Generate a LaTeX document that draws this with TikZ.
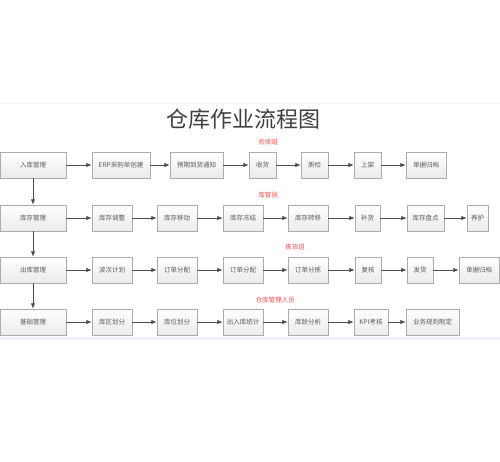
\documentclass[tikz,border=0pt]{standalone}
\usepackage{fontspec}
\setmainfont{Noto Sans CJK SC}
\usetikzlibrary{arrows.meta,shadows}

\begin{document}
\begin{tikzpicture}[x=1pt,y=-1pt,
  box/.style={draw=gray!65, line width=0.5pt, top color=white, bottom color=gray!16,
    drop shadow={shadow xshift=1pt,shadow yshift=-1pt,fill=gray!40,opacity=0.7},
    minimum height=26pt, inner sep=1pt, font=\fontsize{6.5}{7}\selectfont, text=black!65},
  flow/.style={draw=black!70, line width=0.8pt, -{Latex[length=5.5pt,width=4.5pt]}},
  group/.style={font=\fontsize{6.5}{7}\selectfont, text=red!70}]

% Page
\useasboundingbox[fill=white] (0,0) rectangle (500,461);
\draw[gray!8] (0,103) -- (500,103);
\fill[blue!5] (0,337) rectangle (500,340);

% Title
\node[font=\fontsize{22}{24}\selectfont, text=black!75] (title) at (243,119) {仓库作业流程图};

% Row 1
\node[box, minimum width=66pt] (in) at (33,165) {入库管理};
\node[box, minimum width=58pt] (erp) at (121,165) {ERP采购单创建};
\node[box, minimum width=53pt] (notice) at (196.5,165) {预期到货通知};
\node[box, minimum width=27pt] (recv) at (262.5,165) {收货};
\node[box, minimum width=27pt] (qc) at (314.5,165) {质检};
\node[box, minimum width=27pt] (shelf) at (367.5,165) {上架};
\node[box, minimum width=40pt] (archA) at (426,165) {单据归档};
\node[group] (grpA) at (268,142) {验收组};

% Row 2
\node[box, minimum width=66pt] (stock) at (33,218) {库存管理};
\node[box, minimum width=40pt] (adj) at (112,218) {库存调整};
\node[box, minimum width=40pt] (move) at (177,218) {库存移动};
\node[box, minimum width=40pt] (freeze) at (243,218) {库存冻结};
\node[box, minimum width=40pt] (transfer) at (308,218) {库存转移};
\node[box, minimum width=25pt] (replen) at (367.5,218) {补货};
\node[box, minimum width=37pt] (count) at (425.5,218) {库存盘点};
\node[box, minimum width=21pt] (care) at (477.5,218) {养护};
\node[group] (grpB) at (268,195) {库管员};

% Row 3
\node[box, minimum width=66pt] (out) at (33,270) {出库管理};
\node[box, minimum width=40pt] (wave) at (112,270) {波次计划};
\node[box, minimum width=40pt] (allocA) at (177,270) {订单分配};
\node[box, minimum width=40pt] (allocB) at (243,270) {订单分配};
\node[box, minimum width=40pt] (pick) at (308,270) {订单分拣};
\node[box, minimum width=26pt] (check) at (368,270) {复核};
\node[box, minimum width=26pt] (ship) at (420,270) {发货};
\node[box, minimum width=40pt] (archB) at (479,270) {单据归档};
\node[group] (grpC) at (295,247) {拣货组};

% Row 4
\node[box, minimum width=66pt] (base) at (33,322) {基础管理};
\node[box, minimum width=40pt] (zone) at (112,322) {库区划分};
\node[box, minimum width=40pt] (slot) at (177,322) {库位划分};
\node[box, minimum width=40pt] (stat) at (243,322) {出入库统计};
\node[box, minimum width=40pt] (age) at (308,322) {库龄分析};
\node[box, minimum width=34pt] (kpi) at (371,322) {KPI考核};
\node[box, minimum width=53pt] (rule) at (432.5,322) {业务规则制定};
\node[group] (grpD) at (275,300) {仓库管理人员};

% Arrows
\foreach \a/\b in {in/erp,erp/notice,notice/recv,recv/qc,qc/shelf,shelf/archA,
  stock/adj,adj/move,move/freeze,freeze/transfer,transfer/replen,replen/count,count/care,
  out/wave,wave/allocA,allocA/allocB,allocB/pick,pick/check,check/ship,ship/archB,
  base/zone,zone/slot,slot/stat,stat/age,age/kpi,kpi/rule,
  in/stock,stock/out,out/base}
  \draw[flow] (\a) -- (\b);

\end{tikzpicture}
\end{document}
